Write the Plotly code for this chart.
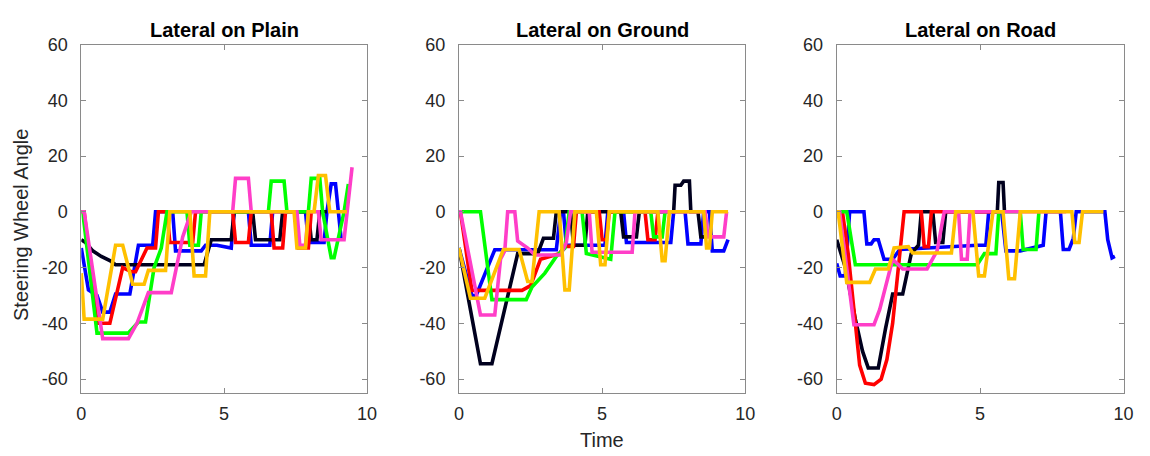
import plotly.graph_objects as go

# ---------------- data ----------------
panel_titles = ["Lateral on Plain", "Lateral on Ground", "Lateral on Road"]
series_names = ["blue", "black", "red", "green", "magenta", "yellow"]
series_colors = ["#0000FF", "#00001E", "#FF0000", "#00FF00", "#FF3EC8", "#FFC000"]
x_ticks = [0, 5, 10]
x_tick_text = ["0", "5", "10"]
y_ticks = [-60, -40, -20, 0, 20, 40, 60]
y_tick_text = ["-60", "-40", "-20", "0", "20", "40", "60"]

# Panel 1 : Plain
plain_blue_t = [0, 0.25, 0.55, 0.75, 1.0, 1.2, 1.7, 2.0, 2.5, 2.6, 3.2, 3.3, 4.2, 4.35, 4.75, 5.25, 5.35, 5.85, 5.95, 6.6, 6.7, 7.85, 7.95, 8.5, 8.6, 8.75, 8.9, 9.0, 9.1]
plain_blue_v = [-13, -28, -30, -36, -36, -29.5, -29.5, -12, -12, 0, 0, -14, -14, -12, -12, -13, 0, 0, -12, -12, 0, 0, -11, -11, 0, 10, 10, 0, -10]
plain_black_t = [0, 0.15, 0.4, 0.7, 1.0, 1.2, 4.3, 4.55, 5.25, 5.35, 6.0, 6.1, 6.95, 7.05, 7.95, 8.05, 8.25, 8.35, 8.6]
plain_black_v = [-10, -11, -14, -16, -17.5, -19, -19, -10, -10, 0, 0, -10, -10, 0, 0, -10, -10, 0, 0]
plain_red_t = [0, 0.1, 0.55, 1.0, 1.45, 1.75, 1.9, 2.3, 2.6, 2.7, 3.0, 3.1, 3.9, 4.0, 5.3, 5.4, 5.85, 5.95, 6.65, 6.75, 7.05, 7.15, 7.5, 7.6, 7.95, 8.05]
plain_red_v = [0, 0, -40, -40, -20, -21.5, -21.5, -13, -13, 0, 0, -11, -11, 0, 0, -11, -11, 0, 0, -13, -13, 0, 0, -13, -13, 0]
plain_green_t = [0, 0.05, 0.55, 1.65, 2.0, 2.25, 2.55, 2.8, 3.0, 3.7, 3.8, 4.1, 4.2, 6.55, 6.65, 7.1, 7.2, 7.95, 8.05, 8.35, 8.45, 8.75, 8.85, 9.2, 9.35]
plain_green_v = [0, 0, -43.5, -43.5, -39.5, -39.5, -20, -13, 0, 0, -12, -12, 0, 0, 11, 11, 0, 0, 12, 12, 0, -16.5, -16.5, 0, 10]
plain_magenta_t = [0, 0.1, 0.75, 1.65, 1.95, 2.35, 3.15, 3.55, 3.85, 5.3, 5.4, 5.85, 5.95, 7.55, 7.65, 7.85, 7.95, 8.3, 8.4, 9.2, 9.48]
plain_magenta_v = [0, 0, -45.5, -45.5, -40, -29, -29, -9, 0, 0, 12, 12, 0, 0, -12, -12, 0, 0, -10, -10, 16]
plain_yellow_t = [0, 0.1, 0.75, 1.2, 1.45, 1.8, 2.2, 2.35, 2.95, 3.1, 3.8, 3.95, 4.35, 4.5, 7.45, 7.55, 7.85, 7.95, 8.15, 8.3, 8.55, 8.7, 9.3]
plain_yellow_v = [-22, -38.5, -38.5, -12, -12, -26, -26, -21, -21, 0, 0, -23, -23, 0, 0, -13, -13, 0, 0, 13, 13, 0, 0]

# Panel 2 : Ground
ground_blue_t = [0, 0.45, 0.6, 1.25, 3.4, 3.55, 3.65, 3.75, 5.1, 5.2, 5.75, 5.85, 7.4, 7.5, 7.9, 8.0, 8.45, 8.55, 8.75, 8.85, 9.25, 9.4]
ground_blue_v = [-13, -30, -30, -13.6, -13.6, 0, 0, -12, -12, 0, 0, -11, -11, 0, 0, -11.5, -11.5, 0, 0, -14, -14, -10]
ground_black_t = [0, 0.75, 1.15, 2.05, 2.75, 2.95, 3.3, 3.4, 3.9, 4.0, 4.4, 4.5, 5.65, 5.75, 6.2, 6.3, 7.5, 7.55, 7.75, 7.85, 8.05, 8.1, 8.35, 8.45, 8.6]
ground_black_v = [-13, -54.5, -54.5, -15, -15, -9.5, -9.5, 0, 0, -12, -12, 0, 0, -9, -9, 0, 0, 9.5, 9.5, 11, 11, 0, 0, -9, -9]
ground_red_t = [0, 0.05, 0.45, 2.2, 2.5, 2.85, 3.5, 3.7, 4.0, 4.1, 4.9, 5.0, 5.15, 5.25, 6.5, 6.6, 6.85, 6.95]
ground_red_v = [0, 0, -28.2, -28.2, -26.5, -17, -15, -12.4, -12.4, 0, 0, -10, -10, 0, 0, -10, -10, 0]
ground_green_t = [0, 0.75, 1.15, 2.35, 2.55, 3.0, 3.4, 3.7, 3.85, 4.3, 4.45, 5.3, 5.45, 6.7, 6.8, 7.1, 7.2]
ground_green_v = [0, 0, -31.5, -31.5, -27, -22, -16, -13, 0, 0, -15, -17, 0, 0, -9, -9, 0]
ground_magenta_t = [0, 0.05, 0.75, 1.25, 1.45, 1.6, 1.7, 1.95, 2.05, 2.4, 2.65, 3.55, 3.75, 3.9, 4.55, 4.65, 6.05, 6.15, 8.6, 8.7, 9.25, 9.35]
ground_magenta_v = [0, 0, -37, -37, -17, -14, 0, 0, -10.5, -13, -15.5, -15.5, -11, 0, 0, -14.5, -14.5, 0, 0, -9, -9, 0]
ground_yellow_t = [0, 0.4, 0.9, 1.55, 2.1, 2.4, 2.55, 2.8, 3.5, 3.7, 3.85, 4.05, 4.8, 4.95, 5.1, 5.25, 6.95, 7.1, 7.2, 7.35, 8.55, 8.65, 8.75, 8.85, 9.4]
ground_yellow_v = [-13, -31, -31, -13.5, -13.5, -25, -25, 0, 0, -28, -28, 0, 0, -19, -19, 0, 0, -17.5, -17.5, 0, 0, -13, -13, 0, 0]

# Panel 3 : Road
road_blue_t = [0, 0.12, 0.3, 0.45, 0.95, 1.05, 1.2, 1.3, 1.45, 1.65, 1.95, 2.2, 4.9, 5.2, 5.3, 5.75, 5.9, 6.4, 7.2, 7.3, 7.8, 7.9, 8.1, 8.25, 8.35, 9.35, 9.45, 9.6, 9.7]
road_blue_v = [-18.5, -23, -23, 0, 0, -11.5, -11.5, -10, -10, -17, -17, -13.5, -12, -12, 0, 0, -14, -14, -12, 0, 0, -13.5, -13.5, -9.5, 0, 0, -10, -16.5, -16]
road_black_t = [0, 0.3, 0.65, 0.9, 1.1, 1.45, 1.7, 1.95, 2.3, 2.6, 2.85, 2.95, 3.35, 3.45, 3.7, 3.8, 5.6, 5.65, 5.8, 5.85]
road_black_v = [-10, -20, -38.5, -50, -56, -56, -42, -29.5, -29.5, -15, -12, 0, 0, -11, -11, 0, 0, 10.5, 10.5, 0]
road_red_t = [0, 0.2, 0.4, 0.6, 0.8, 1.0, 1.3, 1.55, 1.75, 1.95, 2.1, 2.25, 2.35, 2.95, 3.05, 3.2, 3.3, 5.5]
road_red_v = [0, 0, -15, -35, -55, -61.5, -62, -60, -53, -40, -25, -8, 0, 0, -12.5, -12.5, 0, 0]
road_green_t = [0, 0.35, 0.65, 4.9, 5.15, 5.55, 5.65, 6.4, 6.5, 6.95, 7.05]
road_green_v = [0, 0, -19, -19, -15, -15, 0, 0, -13.5, -13.5, 0]
road_magenta_t = [0, 0.1, 0.6, 1.3, 1.5, 1.95, 2.3, 3.15, 3.5, 3.75, 4.25, 4.35, 4.55, 4.65, 8.0]
road_magenta_v = [0, 0, -40.5, -40.5, -35, -17, -20.5, -20.5, -14, 0, 0, -17, -17, 0, 0]
road_yellow_t = [0, 0.05, 0.35, 1.15, 1.35, 1.8, 2.0, 2.5, 2.65, 4.0, 4.15, 4.75, 4.95, 5.15, 5.45, 5.8, 6.0, 6.2, 6.4, 8.2, 8.3, 8.45, 8.57, 9.3]
road_yellow_v = [0, 0, -25.3, -25.3, -20.5, -20.5, -13, -12.5, -14.8, -14.8, 0, 0, -23, -23, 0, 0, -24, -24, 0, 0, -11, -11, 0, 0]

panels = [
    [(plain_blue_t, plain_blue_v), (plain_black_t, plain_black_v), (plain_red_t, plain_red_v),
     (plain_green_t, plain_green_v), (plain_magenta_t, plain_magenta_v), (plain_yellow_t, plain_yellow_v)],
    [(ground_blue_t, ground_blue_v), (ground_black_t, ground_black_v), (ground_red_t, ground_red_v),
     (ground_green_t, ground_green_v), (ground_magenta_t, ground_magenta_v), (ground_yellow_t, ground_yellow_v)],
    [(road_blue_t, road_blue_v), (road_black_t, road_black_v), (road_red_t, road_red_v),
     (road_green_t, road_green_v), (road_magenta_t, road_magenta_v), (road_yellow_t, road_yellow_v)],
]

# ---------------- figure ----------------
W, H = 1150, 456
x_domains = [(77.3, 366.7), (460.0, 750.0), (842.7, 1133.3)]
y_top, y_bot = 35.3, 391.6
yd = [1 - y_bot / H, 1 - y_top / H]

fig = go.Figure()
FONT = "Liberation Sans, Arial, sans-serif"
axis_color = "#8a8a8a"
tick_font = dict(family=FONT, size=18, color="#262626")

for i, series in enumerate(panels):
    xa = "x" if i == 0 else f"x{i+1}"
    ya = "y" if i == 0 else f"y{i+1}"
    for (t, v), name, col in zip(series, series_names, series_colors):
        fig.add_trace(go.Scatter(x=t, y=v, mode="lines", name=name,
                                 line=dict(color=col, width=3.6),
                                 xaxis=xa, yaxis=ya, showlegend=False,
                                 hoverinfo="skip"))
    d0, d1 = x_domains[i]
    xkey = "xaxis" if i == 0 else f"xaxis{i+1}"
    ykey = "yaxis" if i == 0 else f"yaxis{i+1}"
    fig.layout[xkey] = dict(domain=[d0 / W, d1 / W], range=[0, 10], anchor=ya,
                            tickvals=x_ticks, ticktext=x_tick_text, ticks="inside", ticklen=5,
                            tickcolor=axis_color, showline=True, linecolor=axis_color,
                            linewidth=1, mirror="ticks", showgrid=False, zeroline=False,
                            tickfont=tick_font, ticklabelstandoff=4)
    fig.layout[ykey] = dict(domain=yd, range=[-65, 60], anchor=xa,
                            tickvals=y_ticks, ticktext=y_tick_text, ticks="inside", ticklen=5,
                            tickcolor=axis_color, showline=True, linecolor=axis_color,
                            linewidth=1, mirror="ticks", showgrid=False, zeroline=False,
                            tickfont=tick_font, ticklabelstandoff=9)
    fig.add_annotation(text="<b>" + panel_titles[i] + "</b>", xref="paper", yref="paper",
                       x=(d0 + d1) / 2 / W, y=1 - 20.5 / H, showarrow=False,
                       xanchor="center", yanchor="middle",
                       font=dict(family=FONT, size=20, color="#000000"))

fig.add_annotation(text="Steering Wheel Angle", xref="paper", yref="paper",
                   x=16 / W, y=1 - 220 / H, textangle=-90, showarrow=False,
                   xanchor="center", yanchor="middle",
                   font=dict(family=FONT, size=20, color="#262626"))
fig.add_annotation(text="Time", xref="paper", yref="paper",
                   x=605 / W, y=1 - 440 / H, showarrow=False,
                   xanchor="center", yanchor="middle",
                   font=dict(family=FONT, size=20, color="#262626"))

fig.update_layout(width=W, height=H, margin=dict(l=0, r=0, t=0, b=0),
                  paper_bgcolor="white", plot_bgcolor="white")

fig.write_html("out.html")
